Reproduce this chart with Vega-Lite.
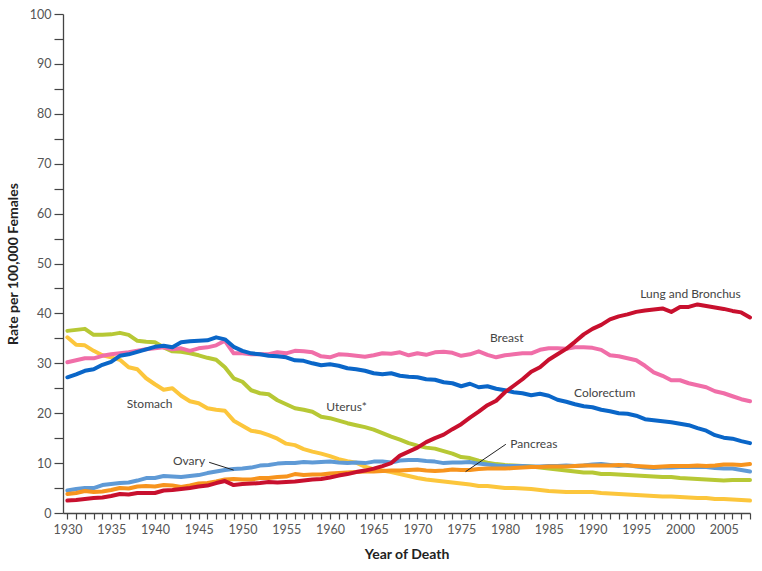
{
  "$schema": "https://vega.github.io/schema/vega-lite/v6.json",
  "width": 687,
  "height": 499,
  "autosize": {"type": "none"},
  "padding": {"left": 63, "top": 14, "right": 12, "bottom": 58},
  "background": "white",
  "config": {
    "view": {"stroke": null},
    "font": "Lato",
    "axis": {"grid": false, "domainColor": "#444", "tickColor": "#444", "labelColor": "#555", "labelFont": "Lato", "labelFontSize": 12.5, "titleFont": "Lato", "titleFontWeight": "bold", "titleFontSize": 14, "titleColor": "#222", "domainWidth": 1.3, "tickWidth": 1.2}
  },
  "datasets": {
    "rates": [
      {"year":1930,"Lung":2.5,"Breast":30.2,"Colorectum":27.2,"Uterus":36.5,"Stomach":35.2,"Ovary":4.5,"Pancreas":3.8},
      {"year":1931,"Lung":2.6,"Breast":30.6,"Colorectum":27.8,"Uterus":36.7,"Stomach":33.7,"Ovary":4.8,"Pancreas":4.0},
      {"year":1932,"Lung":2.8,"Breast":31.0,"Colorectum":28.5,"Uterus":36.9,"Stomach":33.6,"Ovary":5.0,"Pancreas":4.4},
      {"year":1933,"Lung":3.0,"Breast":31.0,"Colorectum":28.8,"Uterus":35.7,"Stomach":32.5,"Ovary":5.0,"Pancreas":4.2},
      {"year":1934,"Lung":3.1,"Breast":31.5,"Colorectum":29.7,"Uterus":35.7,"Stomach":31.6,"Ovary":5.6,"Pancreas":4.3},
      {"year":1935,"Lung":3.4,"Breast":31.8,"Colorectum":30.3,"Uterus":35.8,"Stomach":31.2,"Ovary":5.8,"Pancreas":4.6},
      {"year":1936,"Lung":3.8,"Breast":32.0,"Colorectum":31.5,"Uterus":36.1,"Stomach":30.7,"Ovary":6.0,"Pancreas":5.0},
      {"year":1937,"Lung":3.7,"Breast":32.2,"Colorectum":31.8,"Uterus":35.7,"Stomach":29.2,"Ovary":6.1,"Pancreas":4.9},
      {"year":1938,"Lung":4.0,"Breast":32.5,"Colorectum":32.3,"Uterus":34.5,"Stomach":28.8,"Ovary":6.5,"Pancreas":5.3},
      {"year":1939,"Lung":4.0,"Breast":32.8,"Colorectum":32.8,"Uterus":34.3,"Stomach":27.0,"Ovary":7.0,"Pancreas":5.4},
      {"year":1940,"Lung":4.0,"Breast":33.0,"Colorectum":33.3,"Uterus":34.2,"Stomach":25.8,"Ovary":7.0,"Pancreas":5.3},
      {"year":1941,"Lung":4.5,"Breast":33.2,"Colorectum":33.5,"Uterus":33.2,"Stomach":24.7,"Ovary":7.4,"Pancreas":5.6},
      {"year":1942,"Lung":4.6,"Breast":32.8,"Colorectum":33.2,"Uterus":32.4,"Stomach":25.0,"Ovary":7.3,"Pancreas":5.5},
      {"year":1943,"Lung":4.8,"Breast":33.0,"Colorectum":34.2,"Uterus":32.3,"Stomach":23.5,"Ovary":7.2,"Pancreas":5.2},
      {"year":1944,"Lung":5.0,"Breast":32.5,"Colorectum":34.4,"Uterus":32.0,"Stomach":22.4,"Ovary":7.4,"Pancreas":5.5},
      {"year":1945,"Lung":5.3,"Breast":33.0,"Colorectum":34.5,"Uterus":31.6,"Stomach":22.0,"Ovary":7.6,"Pancreas":5.9},
      {"year":1946,"Lung":5.5,"Breast":33.2,"Colorectum":34.6,"Uterus":31.1,"Stomach":21.0,"Ovary":8.0,"Pancreas":6.0},
      {"year":1947,"Lung":6.0,"Breast":33.6,"Colorectum":35.2,"Uterus":30.7,"Stomach":20.7,"Ovary":8.3,"Pancreas":6.3},
      {"year":1948,"Lung":6.4,"Breast":34.5,"Colorectum":34.8,"Uterus":29.2,"Stomach":20.5,"Ovary":8.6,"Pancreas":6.7},
      {"year":1949,"Lung":5.6,"Breast":32.0,"Colorectum":33.3,"Uterus":27.0,"Stomach":18.5,"Ovary":8.8,"Pancreas":6.8},
      {"year":1950,"Lung":5.8,"Breast":32.0,"Colorectum":32.5,"Uterus":26.3,"Stomach":17.5,"Ovary":8.9,"Pancreas":6.7},
      {"year":1951,"Lung":5.9,"Breast":31.8,"Colorectum":32.0,"Uterus":24.6,"Stomach":16.5,"Ovary":9.1,"Pancreas":6.7},
      {"year":1952,"Lung":6.0,"Breast":31.8,"Colorectum":31.8,"Uterus":24.0,"Stomach":16.2,"Ovary":9.5,"Pancreas":7.0},
      {"year":1953,"Lung":6.2,"Breast":31.8,"Colorectum":31.5,"Uterus":23.8,"Stomach":15.6,"Ovary":9.6,"Pancreas":7.0},
      {"year":1954,"Lung":6.1,"Breast":32.2,"Colorectum":31.4,"Uterus":22.6,"Stomach":14.9,"Ovary":9.9,"Pancreas":7.2},
      {"year":1955,"Lung":6.2,"Breast":32.0,"Colorectum":31.2,"Uterus":21.8,"Stomach":13.9,"Ovary":10.0,"Pancreas":7.3},
      {"year":1956,"Lung":6.3,"Breast":32.5,"Colorectum":30.6,"Uterus":21.0,"Stomach":13.6,"Ovary":10.0,"Pancreas":7.8},
      {"year":1957,"Lung":6.5,"Breast":32.4,"Colorectum":30.5,"Uterus":20.7,"Stomach":12.8,"Ovary":10.2,"Pancreas":7.6},
      {"year":1958,"Lung":6.7,"Breast":32.2,"Colorectum":30.0,"Uterus":20.3,"Stomach":12.3,"Ovary":10.1,"Pancreas":7.7},
      {"year":1959,"Lung":6.8,"Breast":31.4,"Colorectum":29.6,"Uterus":19.3,"Stomach":11.9,"Ovary":10.2,"Pancreas":7.7},
      {"year":1960,"Lung":7.1,"Breast":31.2,"Colorectum":29.8,"Uterus":19.0,"Stomach":11.4,"Ovary":10.3,"Pancreas":7.9},
      {"year":1961,"Lung":7.5,"Breast":31.8,"Colorectum":29.5,"Uterus":18.5,"Stomach":10.8,"Ovary":10.1,"Pancreas":8.0},
      {"year":1962,"Lung":7.8,"Breast":31.7,"Colorectum":29.0,"Uterus":18.0,"Stomach":10.4,"Ovary":10.0,"Pancreas":8.1},
      {"year":1963,"Lung":8.2,"Breast":31.5,"Colorectum":28.8,"Uterus":17.6,"Stomach":10.1,"Ovary":10.1,"Pancreas":8.2},
      {"year":1964,"Lung":8.5,"Breast":31.3,"Colorectum":28.5,"Uterus":17.2,"Stomach":9.3,"Ovary":10.0,"Pancreas":8.3},
      {"year":1965,"Lung":8.9,"Breast":31.6,"Colorectum":28.0,"Uterus":16.7,"Stomach":8.8,"Ovary":10.3,"Pancreas":8.3},
      {"year":1966,"Lung":9.4,"Breast":32.0,"Colorectum":27.8,"Uterus":16.0,"Stomach":8.5,"Ovary":10.3,"Pancreas":8.4},
      {"year":1967,"Lung":10.0,"Breast":31.9,"Colorectum":28.0,"Uterus":15.3,"Stomach":8.2,"Ovary":10.1,"Pancreas":8.5},
      {"year":1968,"Lung":11.5,"Breast":32.2,"Colorectum":27.5,"Uterus":14.7,"Stomach":7.8,"Ovary":10.5,"Pancreas":8.5},
      {"year":1969,"Lung":12.3,"Breast":31.6,"Colorectum":27.3,"Uterus":14.0,"Stomach":7.4,"Ovary":10.6,"Pancreas":8.6},
      {"year":1970,"Lung":13.1,"Breast":32.0,"Colorectum":27.2,"Uterus":13.5,"Stomach":7.0,"Ovary":10.6,"Pancreas":8.7},
      {"year":1971,"Lung":14.2,"Breast":31.7,"Colorectum":26.8,"Uterus":13.1,"Stomach":6.7,"Ovary":10.4,"Pancreas":8.5},
      {"year":1972,"Lung":15.0,"Breast":32.2,"Colorectum":26.7,"Uterus":12.9,"Stomach":6.5,"Ovary":10.3,"Pancreas":8.4},
      {"year":1973,"Lung":15.7,"Breast":32.3,"Colorectum":26.2,"Uterus":12.4,"Stomach":6.3,"Ovary":10.0,"Pancreas":8.5},
      {"year":1974,"Lung":16.8,"Breast":32.1,"Colorectum":26.0,"Uterus":11.9,"Stomach":6.1,"Ovary":10.1,"Pancreas":8.7},
      {"year":1975,"Lung":17.8,"Breast":31.5,"Colorectum":25.4,"Uterus":11.2,"Stomach":5.9,"Ovary":10.1,"Pancreas":8.6},
      {"year":1976,"Lung":19.1,"Breast":31.8,"Colorectum":25.9,"Uterus":11.0,"Stomach":5.7,"Ovary":10.2,"Pancreas":8.6},
      {"year":1977,"Lung":20.3,"Breast":32.4,"Colorectum":25.2,"Uterus":10.5,"Stomach":5.4,"Ovary":9.9,"Pancreas":8.8},
      {"year":1978,"Lung":21.6,"Breast":31.7,"Colorectum":25.4,"Uterus":10.1,"Stomach":5.4,"Ovary":9.7,"Pancreas":8.9},
      {"year":1979,"Lung":22.5,"Breast":31.2,"Colorectum":24.9,"Uterus":9.8,"Stomach":5.2,"Ovary":9.5,"Pancreas":8.9},
      {"year":1980,"Lung":24.2,"Breast":31.6,"Colorectum":24.6,"Uterus":9.6,"Stomach":5.0,"Ovary":9.4,"Pancreas":8.9},
      {"year":1981,"Lung":25.5,"Breast":31.8,"Colorectum":24.2,"Uterus":9.5,"Stomach":5.0,"Ovary":9.4,"Pancreas":9.0},
      {"year":1982,"Lung":26.8,"Breast":32.0,"Colorectum":24.0,"Uterus":9.4,"Stomach":4.9,"Ovary":9.4,"Pancreas":9.1},
      {"year":1983,"Lung":28.3,"Breast":32.0,"Colorectum":23.6,"Uterus":9.3,"Stomach":4.8,"Ovary":9.3,"Pancreas":9.2},
      {"year":1984,"Lung":29.2,"Breast":32.7,"Colorectum":23.9,"Uterus":9.1,"Stomach":4.6,"Ovary":9.3,"Pancreas":9.2},
      {"year":1985,"Lung":30.7,"Breast":33.0,"Colorectum":23.5,"Uterus":8.9,"Stomach":4.4,"Ovary":9.4,"Pancreas":9.3},
      {"year":1986,"Lung":31.8,"Breast":33.0,"Colorectum":22.7,"Uterus":8.7,"Stomach":4.3,"Ovary":9.4,"Pancreas":9.3},
      {"year":1987,"Lung":32.9,"Breast":32.9,"Colorectum":22.3,"Uterus":8.5,"Stomach":4.2,"Ovary":9.5,"Pancreas":9.3},
      {"year":1988,"Lung":34.3,"Breast":33.2,"Colorectum":21.8,"Uterus":8.3,"Stomach":4.2,"Ovary":9.4,"Pancreas":9.4},
      {"year":1989,"Lung":35.8,"Breast":33.2,"Colorectum":21.4,"Uterus":8.1,"Stomach":4.2,"Ovary":9.5,"Pancreas":9.5},
      {"year":1990,"Lung":36.9,"Breast":33.1,"Colorectum":21.2,"Uterus":8.1,"Stomach":4.2,"Ovary":9.7,"Pancreas":9.5},
      {"year":1991,"Lung":37.7,"Breast":32.7,"Colorectum":20.7,"Uterus":7.8,"Stomach":4.0,"Ovary":9.8,"Pancreas":9.5},
      {"year":1992,"Lung":38.8,"Breast":31.6,"Colorectum":20.4,"Uterus":7.8,"Stomach":3.9,"Ovary":9.6,"Pancreas":9.5},
      {"year":1993,"Lung":39.4,"Breast":31.4,"Colorectum":20.0,"Uterus":7.7,"Stomach":3.8,"Ovary":9.4,"Pancreas":9.6},
      {"year":1994,"Lung":39.8,"Breast":31.0,"Colorectum":19.9,"Uterus":7.6,"Stomach":3.7,"Ovary":9.6,"Pancreas":9.5},
      {"year":1995,"Lung":40.3,"Breast":30.6,"Colorectum":19.5,"Uterus":7.5,"Stomach":3.6,"Ovary":9.3,"Pancreas":9.4},
      {"year":1996,"Lung":40.6,"Breast":29.5,"Colorectum":18.8,"Uterus":7.4,"Stomach":3.5,"Ovary":9.1,"Pancreas":9.3},
      {"year":1997,"Lung":40.8,"Breast":28.2,"Colorectum":18.6,"Uterus":7.3,"Stomach":3.4,"Ovary":9.0,"Pancreas":9.2},
      {"year":1998,"Lung":41.0,"Breast":27.5,"Colorectum":18.4,"Uterus":7.2,"Stomach":3.3,"Ovary":9.1,"Pancreas":9.3},
      {"year":1999,"Lung":40.3,"Breast":26.6,"Colorectum":18.2,"Uterus":7.2,"Stomach":3.3,"Ovary":9.1,"Pancreas":9.4},
      {"year":2000,"Lung":41.3,"Breast":26.6,"Colorectum":17.9,"Uterus":7.0,"Stomach":3.2,"Ovary":9.2,"Pancreas":9.4},
      {"year":2001,"Lung":41.3,"Breast":26.0,"Colorectum":17.6,"Uterus":6.9,"Stomach":3.1,"Ovary":9.2,"Pancreas":9.4},
      {"year":2002,"Lung":41.8,"Breast":25.6,"Colorectum":17.0,"Uterus":6.8,"Stomach":3.0,"Ovary":9.2,"Pancreas":9.5},
      {"year":2003,"Lung":41.5,"Breast":25.2,"Colorectum":16.5,"Uterus":6.7,"Stomach":3.0,"Ovary":9.2,"Pancreas":9.4},
      {"year":2004,"Lung":41.2,"Breast":24.4,"Colorectum":15.6,"Uterus":6.6,"Stomach":2.8,"Ovary":9.0,"Pancreas":9.5},
      {"year":2005,"Lung":40.9,"Breast":24.0,"Colorectum":15.1,"Uterus":6.5,"Stomach":2.8,"Ovary":8.9,"Pancreas":9.7},
      {"year":2006,"Lung":40.5,"Breast":23.4,"Colorectum":14.9,"Uterus":6.6,"Stomach":2.7,"Ovary":8.9,"Pancreas":9.7},
      {"year":2007,"Lung":40.2,"Breast":22.8,"Colorectum":14.4,"Uterus":6.6,"Stomach":2.6,"Ovary":8.6,"Pancreas":9.6},
      {"year":2008,"Lung":39.2,"Breast":22.4,"Colorectum":14.0,"Uterus":6.6,"Stomach":2.5,"Ovary":8.3,"Pancreas":9.8}
    ],
    "labels": [
      {"label":"Lung and Bronchus","x":2001.2,"y":43.9},
      {"label":"Breast","x":1980.2,"y":35.0},
      {"label":"Colorectum","x":1991.4,"y":24.0},
      {"label":"Uterus*","x":1961.9,"y":21.3},
      {"label":"Stomach","x":1939.4,"y":21.8},
      {"label":"Ovary","x":1943.9,"y":10.5},
      {"label":"Pancreas","x":1983.3,"y":13.8}
    ],
    "leaders": [
      {"x":1946.2,"y":10.16,"x2":1949.0,"y2":8.6},
      {"x":1980.1,"y":13.77,"x2":1975.5,"y2":8.28}
    ]
  },
  "layer": [
    {
      "data": {"name": "rates"},
      "transform": [{"fold": ["Stomach","Uterus","Ovary","Pancreas","Breast","Colorectum","Lung"], "as": ["site","rate"]}],
      "mark": {"type": "line", "strokeWidth": 4, "strokeJoin": "round", "strokeCap": "round", "clip": false},
      "encoding": {
        "x": {"field": "year", "type": "quantitative",
          "scale": {"domain": [1929.5, 2008], "nice": false, "zero": false},
          "axis": {"title": "Year of Death", "tickCount": 200, "values": [1930,1931,1932,1933,1934,1935,1936,1937,1938,1939,1940,1941,1942,1943,1944,1945,1946,1947,1948,1949,1950,1951,1952,1953,1954,1955,1956,1957,1958,1959,1960,1961,1962,1963,1964,1965,1966,1967,1968,1969,1970,1971,1972,1973,1974,1975,1976,1977,1978,1979,1980,1981,1982,1983,1984,1985,1986,1987,1988,1989,1990,1991,1992,1993,1994,1995,1996,1997,1998,1999,2000,2001,2002,2003,2004,2005,2006,2007,2008],
            "format": "d", "labelExpr": "datum.value % 5 === 0 ? datum.label : ''", "tickSize": 6, "labelPadding": 4, "titlePadding": 12, "labelFlush": false, "labelOverlap": false}},
        "y": {"field": "rate", "type": "quantitative",
          "scale": {"domain": [0, 100], "nice": false},
          "axis": {"title": "Rate per 100,000 Females", "tickCount": 100, "values": [0,5,10,15,20,25,30,35,40,45,50,55,60,65,70,75,80,85,90,95,100],
            "labelExpr": "datum.value % 10 === 0 ? datum.label : ''", "tickSize": 9, "labelPadding": 3, "titlePadding": 9, "labelOverlap": false}},
        "color": {"field": "site", "type": "nominal", "legend": null,
          "scale": {"domain": ["Stomach","Uterus","Ovary","Pancreas","Breast","Colorectum","Lung"],
            "range": ["#fcc63c","#b7c835","#5f9ad6","#f7941e","#f06ea8","#0a66c8","#c8102e"]}}
      }
    },
    {
      "data": {"name": "leaders"},
      "mark": {"type": "rule", "color": "#222", "strokeWidth": 1},
      "encoding": {
        "x": {"field": "x", "type": "quantitative"},
        "y": {"field": "y", "type": "quantitative"},
        "x2": {"field": "x2"},
        "y2": {"field": "y2"}
      }
    },
    {
      "data": {"name": "labels"},
      "mark": {"type": "text", "font": "Lato", "fontSize": 12, "color": "#444", "align": "center", "baseline": "middle"},
      "encoding": {
        "x": {"field": "x", "type": "quantitative"},
        "y": {"field": "y", "type": "quantitative"},
        "text": {"field": "label"}
      }
    }
  ]
}
